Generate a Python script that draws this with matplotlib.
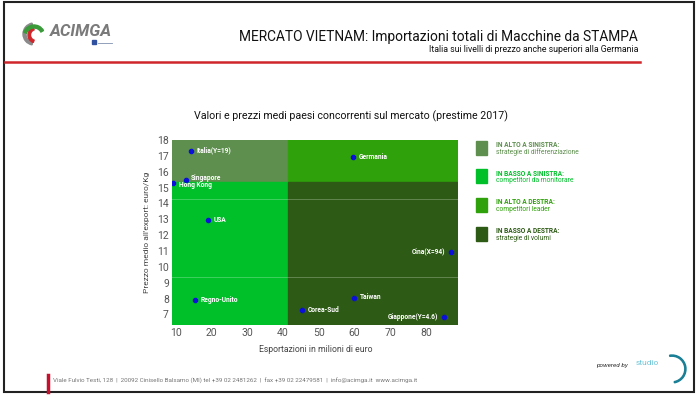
import matplotlib.pyplot as plt
from matplotlib.patches import Rectangle, Wedge

# countries: export value (million euro) and average export price (euro/kg)
countries = ["Italia(Y=19)", "Germania", "Singapore", "Hong Kong", "USA",
             "Cina(X=94)", "Regno-Unito", "Taiwan", "Corea-Sud", "Giappone(Y=4.6)"]
exports = [14.2, 59.7, 12.7, 9.2, 18.9, 87.0, 15.4, 60.0, 45.3, 85.1]
prices = [17.3, 16.9, 15.45, 15.27, 12.95, 10.96, 7.93, 8.05, 7.3, 6.85]

# quadrant split values
x_split = 41.5
y_split = 15.37
x_range = (8.8, 89.1)
y_range = (6.33, 18.0)

x_ticks = [10, 20, 30, 40, 50, 60, 70, 80]
y_ticks = [7, 8, 9, 10, 11, 12, 13, 14, 15, 16, 17, 18]

legend_titles = ["IN ALTO A SINISTRA:", "IN BASSO A SINISTRA:",
                 "IN ALTO A DESTRA:", "IN BASSO A DESTRA:"]
legend_texts = ["strategie di differenziazione", "competitori da monitorare",
                "competitori leader", "strategie di volumi"]

c_tl = "#5e8f4e"
c_bl = "#00c02a"
c_tr = "#2fa10b"
c_br = "#2d5a14"
legend_colors = [c_tl, c_bl, c_tr, c_br]

# label offsets in points (dx, dy, ha)
label_offsets = [(4, 0.5, "left"), (4, 0, "left"), (4, 1.5, "left"), (4, -1.5, "left"),
                 (4, 0, "left"), (-4, 0, "right"), (4, 0, "left"), (4, 0.5, "left"),
                 (4, 0, "left"), (-4, 0, "right")]

plt.rcParams['font.family'] = ['Roboto', 'DejaVu Sans']

fig = plt.figure(figsize=(7.0, 3.98), dpi=100)
fig.patch.set_facecolor("white")

# overlay in pixel coordinates for decorations
bg = fig.add_axes([0, 0, 1, 1])
bg.set_xlim(0, 700)
bg.set_ylim(398, 0)
bg.axis("off")

# outer frame
bg.add_patch(Rectangle((4, 2), 690, 390, fill=False, edgecolor="#222222", linewidth=1.5))
# red header line
bg.plot([5, 640], [61.7, 61.7], color="#d0262b", linewidth=1.8)
# red footer bar
bg.plot([47.5, 47.5], [375, 392], color="#c8102e", linewidth=2.5)

# logo
bg.add_patch(Wedge((34, 34), 11, 100, 260, width=3, color="#8a8a8a"))
bg.add_patch(Wedge((36, 35), 8, 110, 250, width=2.5, color="#d0262b"))
bg.add_patch(Wedge((34, 36), 11, 200, 330, width=3, color="#3a9a3a"))
bg.text(50, 32, "ACIMGA", fontsize=12, fontweight="bold", fontstyle="italic",
        color="#7a7a7a", va="center", ha="left")
bg.add_patch(Rectangle((92, 40), 4, 4, color="#3050a0"))
bg.plot([98, 112], [42.5, 42.5], color="#8090b0", linewidth=0.6)

# header titles
bg.text(638, 36.5, "MERCATO VIETNAM: Importazioni totali di Macchine da STAMPA",
        fontsize=9.9, color="#111111", ha="right", va="center")
bg.text(638, 49.5, "Italia sui livelli di prezzo anche superiori alla Germania",
        fontsize=6.3, color="#111111", ha="right", va="center")

# chart title
bg.text(351, 116, "Valori e prezzi medi paesi concorrenti sul mercato (prestime 2017)",
        fontsize=7.7, color="#111111", ha="center", va="center")

# footer
bg.text(53, 381, "Viale Fulvio Testi, 128  |  20092 Cinisello Balsamo (MI) tel +39 02 2481262  |  "
        "fax +39 02 22479581  |  info@acimga.it  www.acimga.it",
        fontsize=4.5, color="#777777", ha="left", va="center")
bg.text(628, 365, "powered by", fontsize=4.6, fontstyle="italic", color="#333333",
        ha="right", va="center")
bg.text(636, 363, "studio", fontsize=6, color="#6cc5d8", ha="left", va="center")
bg.add_patch(Wedge((672, 369), 14, 260, 80, width=1.2, color="#1b7f95"))

# legend
for i in range(4):
    y0 = 140.5 + i * 28.7
    bg.add_patch(Rectangle((476, y0), 10.5, 14, color=legend_colors[i]))
    bg.text(496, y0 + 4.5, legend_titles[i], fontsize=4.8, fontweight="bold",
            color=legend_colors[i], ha="left", va="center")
    bg.text(496, y0 + 11.5, legend_texts[i], fontsize=4.9,
            color=legend_colors[i], ha="left", va="center")

# scatter plot
ax = fig.add_axes([171.7 / 700, 1 - 325 / 398, 286.6 / 700, 185 / 398])
ax.set_xlim(*x_range)
ax.set_ylim(*y_range)

ax.add_patch(Rectangle((x_range[0], y_split), x_split - x_range[0], y_range[1] - y_split,
                       color=c_tl, zorder=0))
ax.add_patch(Rectangle((x_split, y_split), x_range[1] - x_split, y_range[1] - y_split,
                       color=c_tr, zorder=0))
ax.add_patch(Rectangle((x_range[0], y_range[0]), x_split - x_range[0], y_split - y_range[0],
                       color=c_bl, zorder=0))
ax.add_patch(Rectangle((x_split, y_range[0]), x_range[1] - x_split, y_split - y_range[0],
                       color=c_br, zorder=0))
for yl in [14.26, 9.37]:
    ax.axhline(yl, color="white", alpha=0.25, linewidth=0.7, zorder=1)

ax.scatter(exports, prices, s=9, color="#0a10d8", zorder=3)
for name, x, y, (dx, dy, ha) in zip(countries, exports, prices, label_offsets):
    ax.annotate(name, (x, y), xytext=(dx, dy), textcoords="offset points",
                fontsize=4.8, fontweight="bold", color="white", ha=ha, va="center", zorder=4)

ax.set_xticks(x_ticks)
ax.set_yticks(y_ticks)
ax.tick_params(length=0, labelsize=7.5, labelcolor="#555555", pad=2)
for s in ax.spines.values():
    s.set_visible(False)

bg.text(147, 232, "Prezzo medio all'export: euro/Kg", rotation=90, fontsize=6,
        color="#444444", ha="center", va="center")
bg.text(316, 349, "Esportazioni in milioni di euro", fontsize=6.2,
        color="#444444", ha="center", va="center")

fig.savefig("out.png", dpi=100)
